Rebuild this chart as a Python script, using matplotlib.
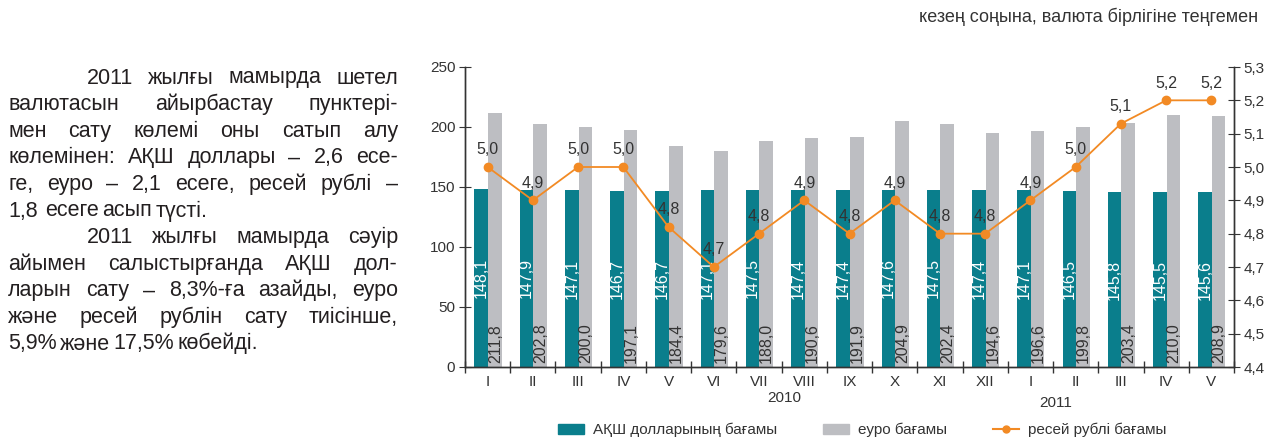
import matplotlib
matplotlib.use('Agg')
import matplotlib.pyplot as plt
import matplotlib.ticker as mticker
from matplotlib import font_manager
from matplotlib.patches import Patch
from matplotlib.lines import Line2D
import numpy as np

# chart data
months = ['I', 'II', 'III', 'IV', 'V', 'VI', 'VII', 'VIII', 'IX', 'X', 'XI', 'XII',
          'I', 'II', 'III', 'IV', 'V']
usd = [148.1, 147.9, 147.1, 146.7, 146.7, 147.1, 147.5, 147.4, 147.4, 147.6, 147.5, 147.4,
       147.1, 146.5, 145.8, 145.5, 145.6]
eur = [211.8, 202.8, 200.0, 197.1, 184.4, 179.6, 188.0, 190.6, 191.9, 204.9, 202.4, 194.6,
       196.6, 199.8, 203.4, 210.0, 208.9]
rub = [5.00, 4.90, 5.00, 5.00, 4.82, 4.70, 4.80, 4.90, 4.80, 4.90, 4.80, 4.80,
       4.90, 5.00, 5.13, 5.20, 5.20]
rub_labels = ['5,0', '4,9', '5,0', '5,0', '4,8', '4,7', '4,8', '4,9', '4,8', '4,9', '4,8', '4,8',
              '4,9', '5,0', '5,1', '5,2', '5,2']
years = ['2010', '2011']
legend_names = ['АҚШ долларының бағамы', 'еуро бағамы', 'ресей рублі бағамы']
note = 'кезең соңына, валюта бірлігіне теңгемен'

# paragraph: (line, indented, justified)
para = [
    ('2011 жылғы мамырда шетел', True, True),
    ('валютасын айырбастау пунктері-', False, True),
    ('мен сату көлемі оны сатып алу', False, True),
    ('көлемінен: АҚШ доллары – 2,6 есе-', False, True),
    ('ге, еуро – 2,1 есеге, ресей рублі –', False, True),
    ('1,8  есеге асып түсті.', False, False),
    ('2011 жылғы мамырда сәуір', True, True),
    ('айымен салыстырғанда АҚШ дол-', False, True),
    ('ларын сату – 8,3%-ға азайды, еуро', False, True),
    ('және ресей рублін сату тиісінше,', False, True),
    ('5,9% және 17,5% көбейді.', False, False),
]

names = {f.name for f in font_manager.fontManager.ttflist}
narrow = 'Liberation Sans Narrow' if 'Liberation Sans Narrow' in names else 'Liberation Sans'
chart_font = [narrow, 'DejaVu Sans']
text_font = ['Liberation Sans', 'DejaVu Sans']

teal = '#0a7e8c'
grey = '#bdbec2'
orange = '#f28a24'
dark = '#333333'

W, H = 1264, 437
fig = plt.figure(figsize=(W / 100, H / 100), dpi=100)
ax = fig.add_axes([465 / W, 1 - 367 / H, (1234 - 465) / W, 300 / H])
ax2 = ax.twinx()

x = np.arange(len(months))
bw = 0.3
ax.bar(x - 0.14, usd, bw, color=teal, zorder=2)
ax.bar(x + 0.16, eur, bw, color=grey, zorder=2)

for i in range(len(months)):
    ax.text(x[i] - 0.14, usd[i] / 2, f'{usd[i]:.1f}'.replace('.', ','), rotation=90,
            ha='center', va='center', color='white', fontsize=11.5, family=chart_font, zorder=3)
    ax.text(x[i] + 0.17, 3, f'{eur[i]:.1f}'.replace('.', ','), rotation=90,
            ha='center', va='bottom', color=dark, fontsize=11.5, family=chart_font, zorder=3)

ax2.plot(x, rub, color=orange, lw=1.3, marker='o', ms=6, zorder=4)
for i in range(len(months)):
    ax2.annotate(rub_labels[i], (x[i], rub[i]), xytext=(0, 7), textcoords='offset points',
                 ha='center', va='bottom', fontsize=11.5, color=dark, family=chart_font)

ax.set_xlim(-0.5, len(months) - 0.5)
ax.set_ylim(0, 250)
ax2.set_ylim(4.4, 5.3)
ax.set_yticks(np.arange(0, 251, 50))
ax2.set_yticks(np.arange(4.4, 5.31, 0.1))
ax2.yaxis.set_major_formatter(mticker.FuncFormatter(lambda v, p: f'{v:.1f}'.replace('.', ',')))

ax.set_xticks(x)
ax.set_xticklabels(months)
ax.set_xticks(np.arange(-0.5, len(months)), minor=True)
ax.tick_params(axis='x', which='major', length=0, pad=6)
ax.tick_params(axis='x', which='minor', length=8, direction='inout', color=dark, width=1)
ax.tick_params(axis='y', length=8, direction='inout', color=dark, pad=3)
ax2.tick_params(axis='y', length=8, direction='inout', color=dark, pad=3)

for a in (ax, ax2):
    a.spines['top'].set_visible(False)
    for s in ('left', 'right', 'bottom'):
        a.spines[s].set_color(dark)
        a.spines[s].set_linewidth(1)
    for lab in a.get_xticklabels() + a.get_yticklabels():
        lab.set_family(chart_font)
        lab.set_fontsize(11)
        lab.set_color(dark)

trans = ax.get_xaxis_transform()
ax.text(6.55, -0.103, years[0], transform=trans, ha='center', va='center',
        fontsize=11, color=dark, family=chart_font)
ax.text(12.55, -0.12, years[1], transform=trans, ha='center', va='center',
        fontsize=11, color=dark, family=chart_font)

handles = [Patch(color=teal), Patch(color=grey),
           Line2D([], [], color=orange, lw=1.5, marker='o', ms=5)]
leg = fig.legend(handles, legend_names, loc='center', bbox_to_anchor=(862 / W, 1 - 430 / H),
                 ncol=3, frameon=False, handlelength=1.7, handleheight=0.7,
                 handletextpad=0.6, columnspacing=3.0, prop={'family': chart_font, 'size': 11})
for t in leg.get_texts():
    t.set_color(dark)

fig.text(1258 / W, 1 - 17 / H, note, ha='right', va='center', fontsize=13,
         color=dark, family=chart_font)

# justified paragraph on the left, placed word by word
renderer = fig.canvas.get_renderer()
fs = 15.5
left, right, indent = 8, 398, 87
base0, step = 83.5, 26.6
space = 3.5
for k, (line, ind, just) in enumerate(para):
    y = 1 - (base0 + k * step) / H
    x0 = indent if ind else left
    words = [w for w in line.split(' ') if w]
    objs = [fig.text(0, y, w, fontsize=fs, family=text_font, color='#231f20',
                     va='baseline', ha='left') for w in words]
    widths = [o.get_window_extent(renderer).width for o in objs]
    gap = space
    if just and len(words) > 1:
        gap = (right - x0 - sum(widths)) / (len(words) - 1)
    cx = x0
    for o, w in zip(objs, widths):
        o.set_x(cx / W)
        cx += w + gap
        if o.get_text() == '1,8':
            cx += space

fig.savefig('out.png', dpi=100)
